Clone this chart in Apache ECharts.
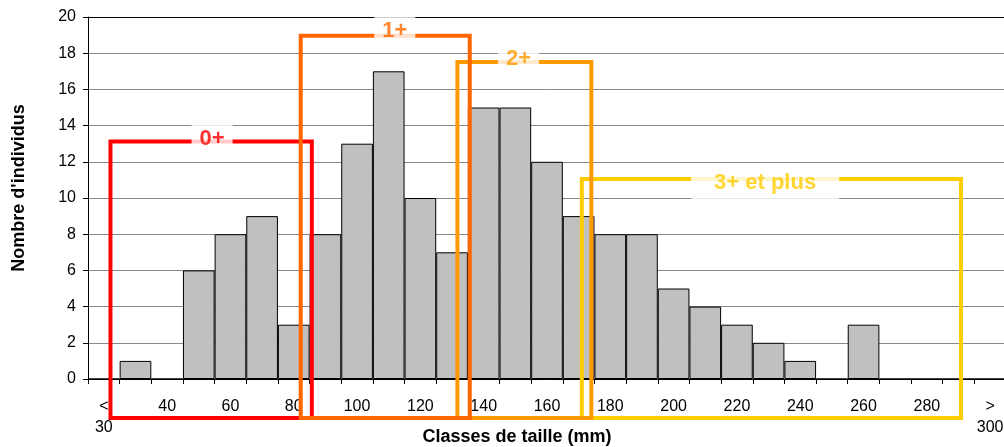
<!DOCTYPE html>
<html><head><meta charset="utf-8">
<script src="https://cdn.jsdelivr.net/npm/echarts@6/dist/echarts.min.js"></script>
<style>html,body{margin:0;padding:0;background:#fff}#c{width:1004px;height:447px}</style>
</head><body><div id="c"></div>
<script>
// Size classes (mm) — labels shown every other class
const categories = ['<\n30','30','40','50','60','70','80','90','100','110','120','130','140','150','160','170','180','190','200','210','220','230','240','250','260','270','280','290','>\n300'];
// Number of individuals per class
const counts = [0,1,0,6,8,9,3,8,13,17,10,7,15,15,12,9,8,8,5,4,3,2,1,0,3,0,0,0,0];
// Y axis ticks
const yMin = 0, yMax = 20, yStep = 2;

// Age-group annotation boxes (in class-index units / count units)
const ageGroups   = ['0+', '1+', '2+', '3+ et plus'];
const groupStart  = [0.21, 6.22, 11.17, 15.10];
const groupEnd    = [6.57, 11.56, 15.40, 27.08];
const groupTop    = [13.12, 18.97, 17.51, 11.05];
const groupBottom = [-2.15, -2.15, -2.15, -2.15];
const labelX      = [3.42, 9.19, 13.10, 20.89];
const labelY      = [13.26, 19.23, 17.70, 10.83];

const groupColors = ['#FF0000', '#FF6600', '#FF9900', '#FFCC00'];
const groupZ      = [3, 6, 5, 4];
const labelPad    = [[5, 8], [5, 8], [5, 8], [5, 23]];

const FONT = 'Liberation Sans, Arial, sans-serif';
const chart = echarts.init(document.getElementById('c'), null, {renderer: 'canvas'});

const series = [{
  type: 'bar',
  data: counts,
  barCategoryGap: '0%',
  itemStyle: {color: '#C0C0C0', borderColor: '#000', borderWidth: 1},
  z: 2,
  silent: true
}];

ageGroups.forEach((g, i) => {
  const x1 = groupStart[i], x2 = groupEnd[i], yt = groupTop[i], yb = groupBottom[i];
  series.push({
    type: 'line',
    xAxisIndex: 1,
    data: [[x1, yt], [x1, yb], [x2, yb], [x2, yt], [x1, yt]],
    symbol: 'none',
    clip: false,
    silent: true,
    lineStyle: {color: groupColors[i], width: 4, join: 'miter', cap: 'square'},
    z: groupZ[i]
  });
});
ageGroups.forEach((g, i) => {
  series.push({
    type: 'scatter',
    xAxisIndex: 1,
    data: [{name: g, value: [labelX[i], labelY[i]]}],
    symbolSize: 1,
    itemStyle: {color: 'rgba(0,0,0,0)'},
    silent: true,
    clip: false,
    z: 20,
    label: {
      show: true,
      position: 'inside',
      formatter: '{b}',
      color: groupColors[i],
      fontSize: 22,
      fontWeight: 'bold',
      fontFamily: FONT,
      backgroundColor: '#fff',
      padding: labelPad[i]
    }
  });
});

chart.setOption({
  animation: false,
  grid: {left: 88, right: -2, top: 17, bottom: 68, containLabel: false, outerBoundsMode: 'none'},
  xAxis: [{
    type: 'category',
    data: categories,
    position: 'bottom',
    boundaryGap: true,
    axisLine: {show: true, onZero: false, lineStyle: {color: '#000', width: 1}},
    axisTick: {show: true, interval: 0, length: 5, lineStyle: {color: '#000'}},
    axisLabel: {interval: 1, fontSize: 16, color: '#000', margin: 17, lineHeight: 21, fontFamily: FONT, hideOverlap: false},
    splitLine: {show: false},
    name: 'Classes de taille (mm)',
    nameLocation: 'middle',
    nameGap: 49,
    nameMoveOverlap: false,
    nameTextStyle: {fontSize: 18, fontWeight: 'bold', color: '#000', fontFamily: FONT, padding: [0, 60, 0, 0]}
  }, {
    type: 'value',
    min: -0.5, max: 28.5,
    position: 'top',
    axisLine: {show: true, onZero: false, lineStyle: {color: '#000', width: 1}},
    axisTick: {show: false},
    axisLabel: {show: false},
    splitLine: {show: false}
  }],
  yAxis: {
    type: 'value',
    min: yMin, max: yMax, interval: yStep,
    axisLine: {show: true, onZero: false, lineStyle: {color: '#000', width: 1}},
    axisTick: {show: true, length: 5, lineStyle: {color: '#000'}},
    axisLabel: {fontSize: 16, color: '#000', margin: 12, fontFamily: FONT},
    splitLine: {show: true, lineStyle: {color: '#888', width: 1}},
    name: "Nombre d'individus",
    nameLocation: 'middle',
    nameGap: 60,
    nameMoveOverlap: false,
    nameTextStyle: {fontSize: 18, fontWeight: 'bold', color: '#000', fontFamily: FONT, padding: [0, 0, 0, 20]}
  },
  series: series
});
</script></body></html>
